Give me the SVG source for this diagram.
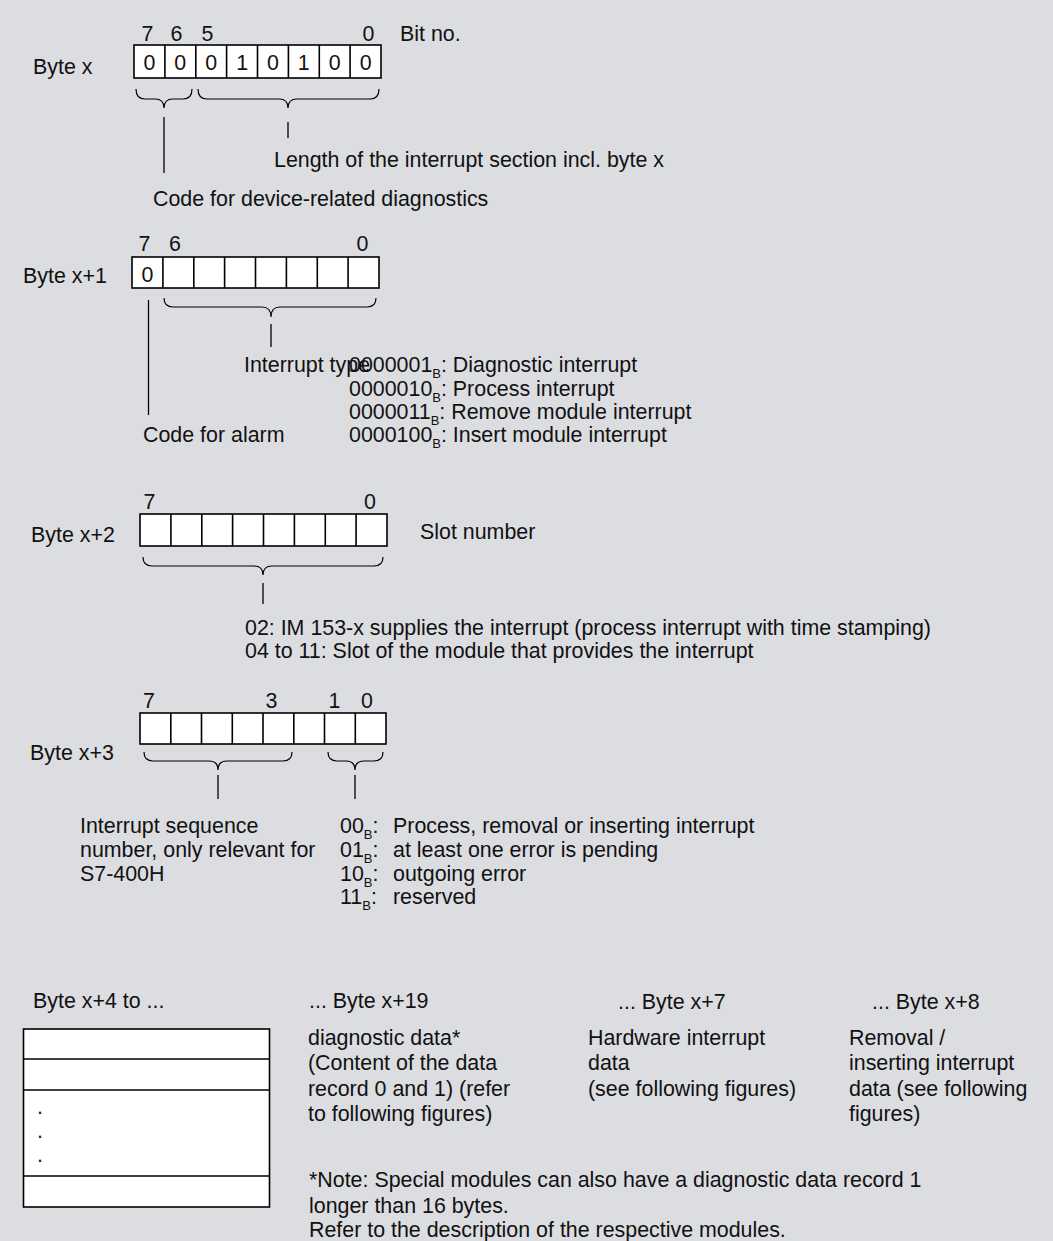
<svg xmlns="http://www.w3.org/2000/svg" width="1053" height="1241" viewBox="0 0 1053 1241">
<style>
text{font-family:"Liberation Sans",Arial,sans-serif;font-size:21.4px;fill:#111}
.c{text-anchor:middle}
.sub{font-size:13px}
.cell{fill:#fff;stroke:#000;stroke-width:1.6}
.div{stroke:#000;stroke-width:1.6}
.br{fill:none;stroke:#000;stroke-width:1.2}
.ld{stroke:#000;stroke-width:1.3}
.tb{fill:#fff;stroke:#000;stroke-width:1.6}
</style>
<rect width="1053" height="1241" fill="#dcdde1"/>

<g id="byte-x">
<text x="33" y="74">Byte x</text>
<text x="141.5" y="41">7</text>
<text x="170.5" y="41">6</text>
<text x="201.5" y="41">5</text>
<text x="362.5" y="41">0</text>
<text x="400" y="41">Bit no.</text>
<rect class="cell" x="134" y="45" width="247" height="33"/>
<path class="div" d="M164.9 45V78M195.8 45V78M226.6 45V78M257.5 45V78M288.4 45V78M319.3 45V78M350.1 45V78"/>
<text class="c" x="149.4" y="70">0</text>
<text class="c" x="180.3" y="70">0</text>
<text class="c" x="211.2" y="70">0</text>
<text class="c" x="242.1" y="70">1</text>
<text class="c" x="273" y="70">0</text>
<text class="c" x="303.8" y="70">1</text>
<text class="c" x="334.7" y="70">0</text>
<text class="c" x="365.6" y="70">0</text>
<text x="274" y="167">Length of the interrupt section incl. byte x</text>
<text x="153" y="206">Code for device-related diagnostics</text>
</g>

<g id="byte-x1">
<text x="23" y="283">Byte x+1</text>
<text x="138.5" y="251">7</text>
<text x="169" y="251">6</text>
<text x="356.5" y="251">0</text>
<rect class="cell" x="132" y="257" width="247" height="31"/>
<path class="div" d="M162.9 257V288M193.8 257V288M224.6 257V288M255.5 257V288M286.4 257V288M317.3 257V288M348.1 257V288"/>
<text class="c" x="147.4" y="282">0</text>
<text x="244" y="372">Interrupt type</text>
<text x="349" y="372">0000001<tspan class="sub" dy="6">B</tspan><tspan dy="-6">: Diagnostic interrupt</tspan></text>
<text x="349" y="396">0000010<tspan class="sub" dy="6">B</tspan><tspan dy="-6">: Process interrupt</tspan></text>
<text x="349" y="419">0000011<tspan class="sub" dy="6">B</tspan><tspan dy="-6">: Remove module interrupt</tspan></text>
<text x="349" y="442">0000100<tspan class="sub" dy="6">B</tspan><tspan dy="-6">: Insert module interrupt</tspan></text>
<text x="143" y="442">Code for alarm</text>
</g>

<g id="byte-x2">
<text x="31" y="542">Byte x+2</text>
<text x="143.5" y="509">7</text>
<text x="364" y="509">0</text>
<rect class="cell" x="140" y="514" width="247" height="32"/>
<path class="div" d="M170.9 514V546M201.8 514V546M232.6 514V546M263.5 514V546M294.4 514V546M325.3 514V546M356.1 514V546"/>
<text x="420" y="539">Slot number</text>
<text x="245" y="635">02: IM 153-x supplies the interrupt (process interrupt with time stamping)</text>
<text x="245" y="658">04 to 11: Slot of the module that provides the interrupt</text>
</g>

<g id="byte-x3">
<text x="30" y="760">Byte x+3</text>
<text x="143" y="708">7</text>
<text x="265.5" y="708">3</text>
<text x="328.5" y="708">1</text>
<text x="361" y="708">0</text>
<rect class="cell" x="140" y="713" width="246" height="31"/>
<path class="div" d="M170.8 713V744M201.5 713V744M232.3 713V744M263 713V744M293.8 713V744M324.5 713V744M355.3 713V744"/>
<text x="80" y="833">Interrupt sequence</text>
<text x="80" y="857">number, only relevant for</text>
<text x="80" y="881">S7-400H</text>
<text x="340" y="833">00<tspan class="sub" dy="6">B</tspan><tspan dy="-6">:</tspan></text>
<text x="340" y="857">01<tspan class="sub" dy="6">B</tspan><tspan dy="-6">:</tspan></text>
<text x="340" y="881">10<tspan class="sub" dy="6">B</tspan><tspan dy="-6">:</tspan></text>
<text x="340" y="904">11<tspan class="sub" dy="6">B</tspan><tspan dy="-6">:</tspan></text>
<text x="393" y="833">Process, removal or inserting interrupt</text>
<text x="393" y="857">at least one error is pending</text>
<text x="393" y="881">outgoing error</text>
<text x="393" y="904">reserved</text>
</g>

<g id="data-block">
<text x="33" y="1008">Byte x+4 to ...</text>
<rect class="tb" x="23.5" y="1029" width="246" height="178"/>
<path class="div" d="M23.5 1059H269.5M23.5 1090H269.5M23.5 1176H269.5"/>
<text x="37" y="1114">.</text>
<text x="37" y="1138">.</text>
<text x="37" y="1162">.</text>
</g>

<g id="diag-data">
<text x="309" y="1008">... Byte x+19</text>
<text x="308" y="1045">diagnostic data*</text>
<text x="308" y="1070">(Content of the data</text>
<text x="308" y="1096">record 0 and 1) (refer</text>
<text x="308" y="1121">to following figures)</text>
</g>

<g id="hw-data">
<text x="618" y="1009">... Byte x+7</text>
<text x="588" y="1045">Hardware interrupt</text>
<text x="588" y="1070">data</text>
<text x="588" y="1096">(see following figures)</text>
</g>

<g id="rem-data">
<text x="872" y="1009">... Byte x+8</text>
<text x="849" y="1045">Removal /</text>
<text x="849" y="1070">inserting interrupt</text>
<text x="849" y="1096">data (see following</text>
<text x="849" y="1121">figures)</text>
</g>

<g id="note">
<text x="309" y="1187">*Note: Special modules can also have a diagnostic data record 1</text>
<text x="309" y="1213">longer than 16 bytes.</text>
<text x="309" y="1237">Refer to the description of the respective modules.</text>
</g>

<g id="connectors">
<path class="br" d="M136 89Q136 99 145 99L155 99Q164 99 164 108Q164 99 173 99L183 99Q192 99 192 89"/>
<path class="br" d="M198 89Q198 99 207 99L279 99Q288 99 288 108Q288 99 297 99L370 99Q379 99 379 89"/>
<line class="ld" x1="164" y1="117" x2="164" y2="173"/>
<line class="ld" x1="288" y1="122" x2="288" y2="138"/>
<path class="br" d="M164 298Q164 307 173 307L262 307Q271 307 271 317Q271 307 280 307L367 307Q376 307 376 298"/>
<line class="ld" x1="271" y1="324" x2="271" y2="347"/>
<line class="ld" x1="148.5" y1="300" x2="148.5" y2="415"/>
<path class="br" d="M143 557Q143 566 152 566L254 566Q263 566 263 575Q263 566 272 566L374 566Q383 566 383 557"/>
<line class="ld" x1="263" y1="583" x2="263" y2="604"/>
<path class="br" d="M144 752Q144 761 153 761L209 761Q218 761 218 770Q218 761 227 761L283 761Q292 761 292 752"/>
<path class="br" d="M328 752Q328 761 337 761L346 761Q355 761 355 770Q355 761 364 761L374 761Q383 761 383 752"/>
<line class="ld" x1="218" y1="775" x2="218" y2="799"/>
<line class="ld" x1="355" y1="775" x2="355" y2="799"/>
</g>
</svg>
